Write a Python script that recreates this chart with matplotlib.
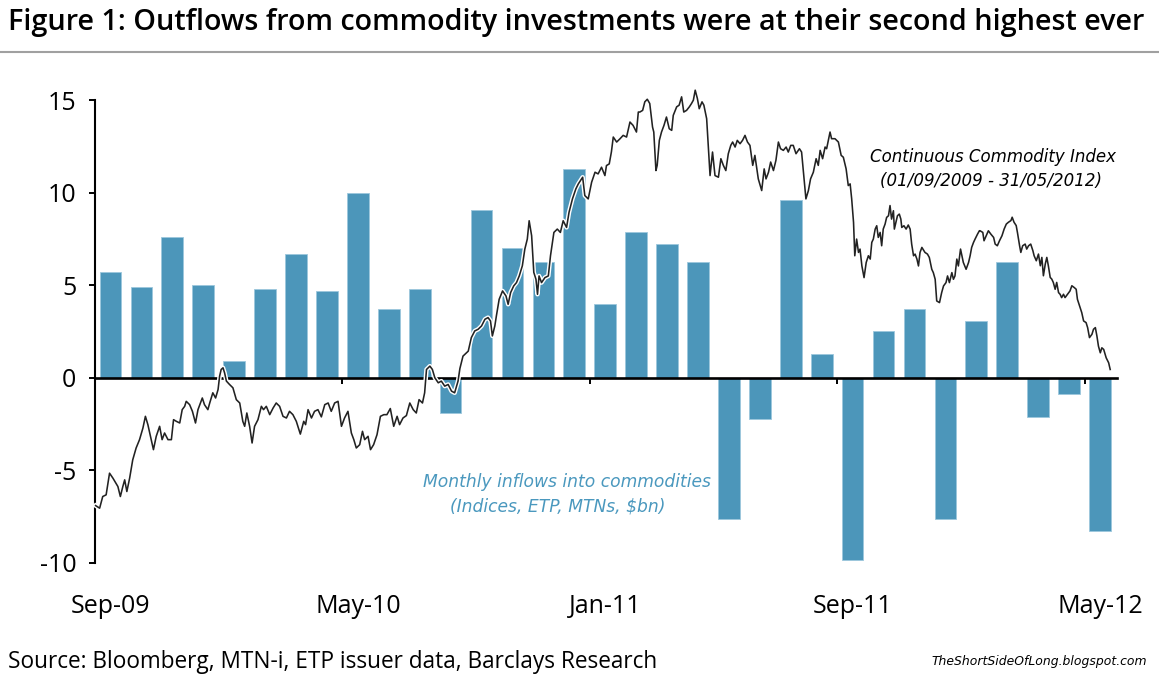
import matplotlib
matplotlib.use("Agg")
import matplotlib.pyplot as plt
import matplotlib.patheffects as pe
import pandas as pd
import numpy as np

# ---------------- data ----------------
months = list(pd.date_range("2009-09-01", periods=33, freq="MS").strftime("%b-%y"))
inflows = [5.7, 4.9, 7.6, 5.0, 0.9, 4.8, 6.7, 4.7, 10.0, 3.7, 4.8, -1.9,
           9.05, 7.0, 6.25, 11.3, 4.0, 7.85, 7.2, 6.25, -7.6, -2.25, 9.6, 1.3,
           -9.85, 2.5, 3.7, -7.6, 3.05, 6.25, -2.1, -0.9, -8.25]
tick_labels = ["Sep-09", "May-10", "Jan-11", "Sep-11", "May-12"]
tick_months = ["Sep-09", "May-10", "Jan-11", "Sep-11", "May-12"]

# Continuous Commodity Index (rescaled onto the left axis), time in months since 01/09/2009
cci_t = [0.02, 0.15, 0.25, 0.36, 0.47, 0.58, 0.74, 0.82, 0.90, 0.96, 1.03, 1.12, 1.22, 1.33, 1.44,
         1.55, 1.63, 1.71, 1.82, 1.89, 1.98, 2.09, 2.17, 2.25, 2.36, 2.47, 2.54, 2.63, 2.74, 2.82,
         2.90, 2.95, 3.06, 3.15, 3.25, 3.33, 3.47, 3.54, 3.65, 3.71, 3.81, 3.90, 3.98, 4.03, 4.08,
         4.14, 4.19, 4.25, 4.35, 4.46, 4.57, 4.68, 4.78, 4.84, 4.91, 5.00, 5.08, 5.16, 5.27, 5.38,
         5.45, 5.54, 5.65, 5.76, 5.86,
         5.97, 6.08, 6.19, 6.29, 6.40, 6.51, 6.64, 6.75, 6.81, 6.89, 7.00, 7.10, 7.21, 7.32, 7.43,
         7.54, 7.64, 7.75, 7.86, 7.97, 8.07, 8.18, 8.29, 8.37, 8.45, 8.56, 8.65, 8.72, 8.83, 8.91,
         9.01, 9.12, 9.23, 9.34, 9.44, 9.55, 9.66, 9.77, 9.85, 9.96, 10.07, 10.18, 10.29, 10.39,
         10.48, 10.59, 10.66, 10.72, 10.83, 10.91, 10.99, 11.10, 11.20, 11.31, 11.42, 11.53, 11.63,
         11.74, 11.80,
         11.90, 12.07, 12.17, 12.28, 12.39, 12.50, 12.61, 12.71, 12.79, 12.85, 12.93, 12.98, 13.07,
         13.18, 13.29, 13.36, 13.44, 13.54, 13.63, 13.72, 13.82, 13.90, 13.98, 14.04, 14.12, 14.19,
         14.26, 14.31, 14.36, 14.44, 14.55, 14.66, 14.73, 14.84, 14.95, 15.05, 15.14, 15.25, 15.33,
         15.44, 15.55, 15.63, 15.70, 15.77, 15.84, 15.95, 16.06, 16.17, 16.27, 16.38, 16.49, 16.54,
         16.63, 16.70,
         16.76, 16.87, 16.98, 17.08, 17.19, 17.30, 17.40, 17.51, 17.57,
         17.62, 17.71, 17.78, 17.86, 17.94, 18.03, 18.07, 18.14, 18.18, 18.25, 18.32, 18.40, 18.48,
         18.57, 18.65, 18.70, 18.81, 18.89, 18.97, 19.04, 19.13, 19.22, 19.29, 19.35, 19.41, 19.48,
         19.54, 19.63, 19.69, 19.78, 19.83, 19.89, 19.97, 20.05, 20.16, 20.24, 20.32, 20.40, 20.48,
         20.56, 20.62, 20.70, 20.77, 20.86, 20.94, 21.02, 21.10, 21.18, 21.27, 21.34, 21.45, 21.56,
         21.64, 21.70, 21.78, 21.85, 21.94, 22.02, 22.10, 22.17, 22.26, 22.35, 22.42, 22.50, 22.58,
         22.67, 22.78, 22.85, 22.91, 22.99, 23.07, 23.14, 23.23, 23.32, 23.39, 23.45, 23.53, 23.61,
         23.66, 23.77, 23.82, 23.93, 24.04, 24.13,
         24.20, 24.29, 24.36, 24.42, 24.47, 24.53, 24.57, 24.63, 24.69, 24.74, 24.80, 24.87, 24.94,
         25.01, 25.07, 25.12, 25.17, 25.23, 25.28, 25.33, 25.39, 25.44, 25.49, 25.55, 25.60, 25.66,
         25.71, 25.76, 25.82, 25.85, 25.90, 25.95, 26.01, 26.06, 26.09, 26.16, 26.23, 26.30, 26.36,
         26.41, 26.47, 26.52, 26.58, 26.63, 26.68, 26.74, 26.84, 26.92, 26.98, 27.06, 27.11, 27.17,
         27.22, 27.31, 27.38, 27.44, 27.52, 27.57, 27.63, 27.71, 27.76, 27.81, 27.87, 27.92, 27.99,
         28.08, 28.17, 28.25, 28.30, 28.35, 28.41, 28.46, 28.54, 28.60,
         28.62, 28.71, 28.75, 28.82, 28.89, 28.97, 29.06, 29.11, 29.18, 29.25, 29.33, 29.40, 29.47,
         29.54, 29.62, 29.66, 29.72, 29.79, 29.83, 29.90, 29.94, 30.00, 30.08, 30.13, 30.19, 30.26,
         30.33, 30.37, 30.44, 30.51, 30.57, 30.62, 30.67, 30.73, 30.78, 30.83, 30.89, 30.94, 30.99,
         31.05, 31.10, 31.16, 31.21, 31.26, 31.32, 31.37, 31.45, 31.53, 31.59, 31.67, 31.73, 31.77,
         31.84, 31.91, 31.97, 32.05, 32.10, 32.16, 32.24, 32.29, 32.35, 32.40, 32.45, 32.51, 32.56,
         32.62, 32.70, 32.78, 32.83]
cci_v = [-6.90, -7.04, -6.41, -6.32, -5.15, -5.42, -5.87, -6.41, -5.87, -5.51, -6.14, -5.42, -4.43,
         -3.79, -3.34, -2.71, -2.08, -2.53, -3.34, -3.88, -3.16, -2.62, -3.34, -2.98, -3.34, -3.34,
         -2.26, -2.35, -2.44, -1.72, -1.54, -1.27, -1.45, -1.81, -2.44, -1.72, -1.09, -1.45, -1.72,
         -1.36, -0.81, -1.09, -0.63, 0.09, 0.45, 0.54, 0.27, -0.18, -0.36, -0.54, -1.18, -1.36,
         -2.35, -2.62, -1.90, -2.62, -3.52, -2.62, -2.26, -1.54, -1.72, -1.54, -1.99, -1.63, -1.36,
         -1.54, -2.08, -2.17, -1.81, -1.99, -2.35, -3.04, -2.35, -2.53, -1.72, -2.17, -1.81, -1.72,
         -2.11, -1.45, -1.36, -1.81, -1.36, -1.27, -2.62, -2.17, -1.81, -2.98, -3.34, -3.79, -3.61,
         -2.89, -3.34, -3.16, -3.88, -3.61, -3.07, -2.08, -1.99, -1.99, -1.66, -2.62, -2.08, -2.53,
         -2.17, -2.04, -1.36, -1.72, -1.90, -1.18, -1.36, -0.81, 0.45, 0.63, 0.45, 0.00, -0.27,
         -0.18, -0.45, -0.36, -0.72, -0.81, -0.18, 0.50,
         1.17, 1.44, 2.17, 2.53, 2.62, 2.80, 3.16, 3.25, 3.07, 2.26, 2.80, 3.34, 4.24, 4.69, 4.42,
         3.97, 4.60, 4.96, 5.14, 5.50, 6.05, 6.95, 7.49, 8.48, 7.67, 5.69, 5.32, 4.51, 5.50, 5.14,
         5.41, 5.50, 6.59, 7.85, 8.03, 7.85, 8.48, 8.12, 8.94, 9.66, 10.20, 10.47, 10.65, 10.83,
         9.84, 9.66, 10.56, 11.10, 11.01, 11.37, 10.92, 11.46, 11.55, 12.20,
         13.00, 12.73, 12.91, 13.09, 13.00, 13.81, 13.63, 13.27, 14.35,
         14.35, 14.44, 14.90, 15.04, 14.81, 13.54, 13.27, 11.19, 11.47, 12.82, 13.27, 13.63, 14.08,
         13.45, 13.36, 14.17, 14.63, 14.72, 15.17, 14.35, 14.44, 14.63, 14.81, 14.99, 15.53, 15.08,
         14.53, 14.90, 14.72, 13.99, 12.55, 10.92, 12.19, 10.92, 10.83, 11.83, 11.47, 11.19, 12.10,
         12.55, 12.73, 12.46, 12.82, 12.64, 12.82, 13.09, 12.73, 12.55, 11.47, 12.01, 10.74, 10.11,
         11.28, 10.74, 11.10, 11.65, 11.19, 11.74, 12.73, 12.37, 12.28, 12.46, 12.19, 12.55, 12.55,
         12.10, 12.37, 12.19, 11.10, 9.66, 10.11, 10.74, 11.10, 11.83, 11.47, 12.28, 11.83, 12.46,
         12.37, 13.27, 12.91, 12.91, 12.73, 12.01,
         11.91, 11.28, 10.38, 10.47, 9.66, 8.39, 6.59, 7.49, 6.77, 6.95, 6.04, 5.41, 6.23, 6.59,
         6.41, 7.31, 7.49, 8.03, 8.21, 7.58, 7.85, 7.13, 8.03, 8.30, 8.66, 8.75, 9.30, 8.57, 9.02,
         8.03, 8.39, 8.75, 8.84, 8.57, 8.12, 8.21, 8.03, 8.25, 8.03, 7.22, 6.59, 6.68, 6.41, 6.04,
         6.77, 7.04, 6.77, 6.68, 6.50, 5.86, 5.68, 5.32, 4.15, 4.06, 4.60, 4.96, 5.14, 5.50, 5.14,
         5.68, 5.32, 5.50, 6.41, 6.04, 6.95, 6.23, 5.86, 6.23, 6.59, 7.04, 7.31, 7.49, 7.76, 7.94,
         7.94, 7.85, 7.40, 7.67, 7.94, 7.76, 7.58, 7.22, 7.13, 7.40, 7.67, 8.03, 8.30, 8.40, 8.49,
         8.67, 8.40, 8.22, 7.85, 7.13, 6.77, 7.13, 7.22, 6.95, 7.13, 7.22, 6.86, 6.59, 6.32, 6.68,
         6.05, 6.50, 5.51, 6.14, 6.50, 6.05, 5.42, 5.33, 5.15, 4.78, 5.15, 4.60, 4.51, 4.33, 4.51,
         4.33, 4.51, 4.69, 4.97, 4.87, 4.78, 4.24, 3.88, 3.52, 3.07, 2.98, 2.71, 2.17, 2.35, 2.62,
         2.71, 2.26, 1.71, 1.35, 1.62, 1.53, 1.08, 0.81, 0.45]

# ---------------- style ----------------
plt.rcParams['font.family'] = ['Open Sans', 'DejaVu Sans']
BAR = '#4C96BA'
W, H = 1159, 678
fig = plt.figure(figsize=(W / 100, H / 100), dpi=100)
ax = fig.add_axes([95 / W, 1 - 563 / H, 1022 / W, 463 / H])

x = np.arange(len(months))
ax.bar(x, inflows, width=0.7, color=BAR, edgecolor='#9CC7DD', linewidth=0.6, zorder=1)

line_x = np.array(cci_t) - 0.5
ax.plot(line_x, cci_v, color='#222222', lw=1.15, zorder=4, clip_on=False,
        path_effects=[pe.Stroke(linewidth=3.2, foreground='white'), pe.Normal()])

ax.set_xlim(-0.5, 32.55)
ax.set_ylim(-10, 15)
ax.set_yticks([-10, -5, 0, 5, 10, 15])
ax.set_yticklabels(['-10', '-5', '0', '5', '10', '15'])

for s in ['top', 'right']:
    ax.spines[s].set_visible(False)
ax.spines['left'].set_linewidth(1.5)
ax.spines['bottom'].set_position(('data', 0))
ax.spines['bottom'].set_linewidth(1.9)
ax.spines['bottom'].set_zorder(3)

ax.tick_params(axis='y', direction='out', length=4.5, width=1.4, pad=9,
               labelsize=18, colors='black')
ax.set_xticks([7.5, 15.5, 23.5, 31.5])
ax.set_xticklabels([])
ax.tick_params(axis='x', direction='out', length=4.5, width=1.4)

sec = ax.secondary_xaxis(-0.068)
sec.set_xticks([months.index(m) for m in tick_months], tick_labels)
sec.tick_params(length=0, labelsize=18, pad=0)
sec.spines['bottom'].set_visible(False)

# annotations
ax.text(28.54, 11.66, 'Continuous Commodity Index', family='DejaVu Sans', style='italic',
        fontsize=12, ha='center', va='baseline', color='black')
ax.text(28.48, 10.36, '(01/09/2009 - 31/05/2012)', family='DejaVu Sans', style='italic',
        fontsize=12, ha='center', va='baseline', color='black')
ax.text(14.75, -5.87, 'Monthly inflows into commodities', family='DejaVu Sans', style='italic',
        fontsize=12.3, ha='center', va='baseline', color='#4A98BE')
ax.text(14.47, -7.23, '(Indices, ETP, MTNs, $bn)', family='DejaVu Sans', style='italic',
        fontsize=12.3, ha='center', va='baseline', color='#4A98BE')

# title, rule and footer
fig.text(8 / W, 1 - 30 / H, 'Figure 1: Outflows from commodity investments were at their second highest ever',
         fontsize=20.7, fontweight='semibold', ha='left', va='baseline')
fig.add_artist(plt.Line2D([0, 1], [1 - 52 / H, 1 - 52 / H], color='#a0a0a0', lw=1.5))
fig.text(8 / W, 1 - 668 / H, 'Source: Bloomberg, MTN-i, ETP issuer data, Barclays Research',
         fontsize=16.3, ha='left', va='baseline')
fig.text(1147 / W, 1 - 665 / H, 'TheShortSideOfLong.blogspot.com', family='DejaVu Sans',
         style='italic', fontsize=8.9, ha='right', va='baseline')

fig.savefig('out.png', dpi=100)
